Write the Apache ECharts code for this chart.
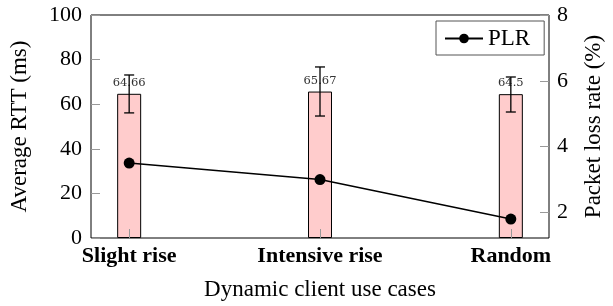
<!DOCTYPE html>
<html>
<head>
<meta charset="utf-8">
<script src="https://cdn.jsdelivr.net/npm/echarts@6/dist/echarts.min.js"></script>
<style>
  html, body { margin: 0; padding: 0; background: #fff; }
  #chart { width: 613px; height: 306px; }
</style>
</head>
<body>
<div id="chart"></div>
<script>
const categories = ['Slight rise', 'Intensive rise', 'Random']
const rttValues = [64.66, 65.67, 64.5]
const rttLabels = ['64.66', '65.67', '64.5']
const rttLow = [56.1, 54.7, 56.5]
const rttHigh = [73.1, 76.7, 72.2]
const plrValues = [3.5, 3.0, 1.8]
const rttTicks = [0, 20, 40, 60, 80, 100]
const plrTicks = [2, 4, 6, 8]

const font = 'Liberation Serif'
const chart = echarts.init(document.getElementById('chart'))

const idx = categories.map((c, i) => i)

chart.setOption({
  animation: false,
  textStyle: { fontFamily: font },
  grid: {
    left: 91, right: 56, top: 15, bottom: 68,
    show: true, borderColor: '#000', borderWidth: 1
  },
  legend: {
    show: true,
    left: 436, top: 21,
    padding: [6, 14, 5, 8],
    borderColor: '#555', borderWidth: 1, borderRadius: 0,
    itemWidth: 38, itemHeight: 12,
    itemGap: 5,
    textStyle: { fontFamily: font, fontSize: 23, color: '#000' },
    data: ['PLR']
  },
  xAxis: {
    type: 'value',
    min: -0.2, max: 2.2,
    z: 5,
    name: 'Dynamic client use cases',
    nameLocation: 'middle',
    nameGap: 40,
    nameTextStyle: { fontFamily: font, fontSize: 23, color: '#000' },
    axisLine: { show: false, onZero: false },
    splitLine: { show: false },
    axisTick: { inside: true, length: 9, lineStyle: { color: '#999' }, customValues: idx },
    axisLabel: {
      customValues: idx,
      formatter: v => categories[Math.round(v)],
      fontFamily: font, fontSize: 22, fontWeight: 'bold', color: '#000', margin: 7
    }
  },
  yAxis: [
    {
      type: 'value',
      min: 0, max: 100,
      name: 'Average RTT (ms)',
      nameLocation: 'middle',
      nameGap: 60,
      nameTextStyle: { fontFamily: font, fontSize: 23, color: '#000' },
      axisLine: { show: false, onZero: false },
      splitLine: { show: false },
      axisTick: { inside: true, length: 9, lineStyle: { color: '#999' }, customValues: rttTicks },
      axisLabel: { customValues: rttTicks, fontFamily: font, fontSize: 22, color: '#000', margin: 9 }
    },
    {
      type: 'value',
      min: 1.225, max: 8,
      name: 'Packet loss rate (%)',
      nameLocation: 'middle',
      nameGap: 33,
      nameTextStyle: { fontFamily: font, fontSize: 23, color: '#000' },
      axisLine: { show: false, onZero: false },
      splitLine: { show: false },
      axisTick: { inside: true, length: 9, lineStyle: { color: '#999' }, customValues: plrTicks },
      axisLabel: { customValues: plrTicks, fontFamily: font, fontSize: 22, color: '#000', margin: 8 }
    }
  ],
  series: [
    {
      name: 'RTT',
      type: 'bar',
      barWidth: 24,
      data: idx.map(i => [i, rttValues[i]]),
      itemStyle: { color: '#ffcccc', borderColor: '#000', borderWidth: 1 },
      label: {
        show: true,
        position: 'top',
        distance: 5,
        formatter: p => rttLabels[p.dataIndex],
        fontFamily: 'DejaVu Serif',
        fontSize: 11.5,
        color: '#333'
      },
      z: 2
    },
    {
      name: 'err',
      type: 'custom',
      data: idx.map(i => [i, rttLow[i], rttHigh[i]]),
      encode: { x: 0, y: [1, 2] },
      renderItem: (params, api) => {
        const lo = api.coord([api.value(0), api.value(1)])
        const hi = api.coord([api.value(0), api.value(2)])
        const half = 5
        const style = { stroke: '#000', lineWidth: 1.3, fill: null }
        return {
          type: 'group',
          children: [
            { type: 'line', shape: { x1: lo[0], y1: lo[1], x2: hi[0], y2: hi[1] }, style },
            { type: 'line', shape: { x1: lo[0] - half, y1: lo[1], x2: lo[0] + half, y2: lo[1] }, style },
            { type: 'line', shape: { x1: hi[0] - half, y1: hi[1], x2: hi[0] + half, y2: hi[1] }, style }
          ]
        }
      },
      z: 5
    },
    {
      name: 'PLR',
      type: 'line',
      yAxisIndex: 1,
      data: idx.map(i => [i, plrValues[i]]),
      symbol: 'circle',
      symbolSize: 11,
      itemStyle: { color: '#000' },
      lineStyle: { color: '#000', width: 1.5 },
      z: 10
    }
  ]
})
</script>
</body>
</html>
